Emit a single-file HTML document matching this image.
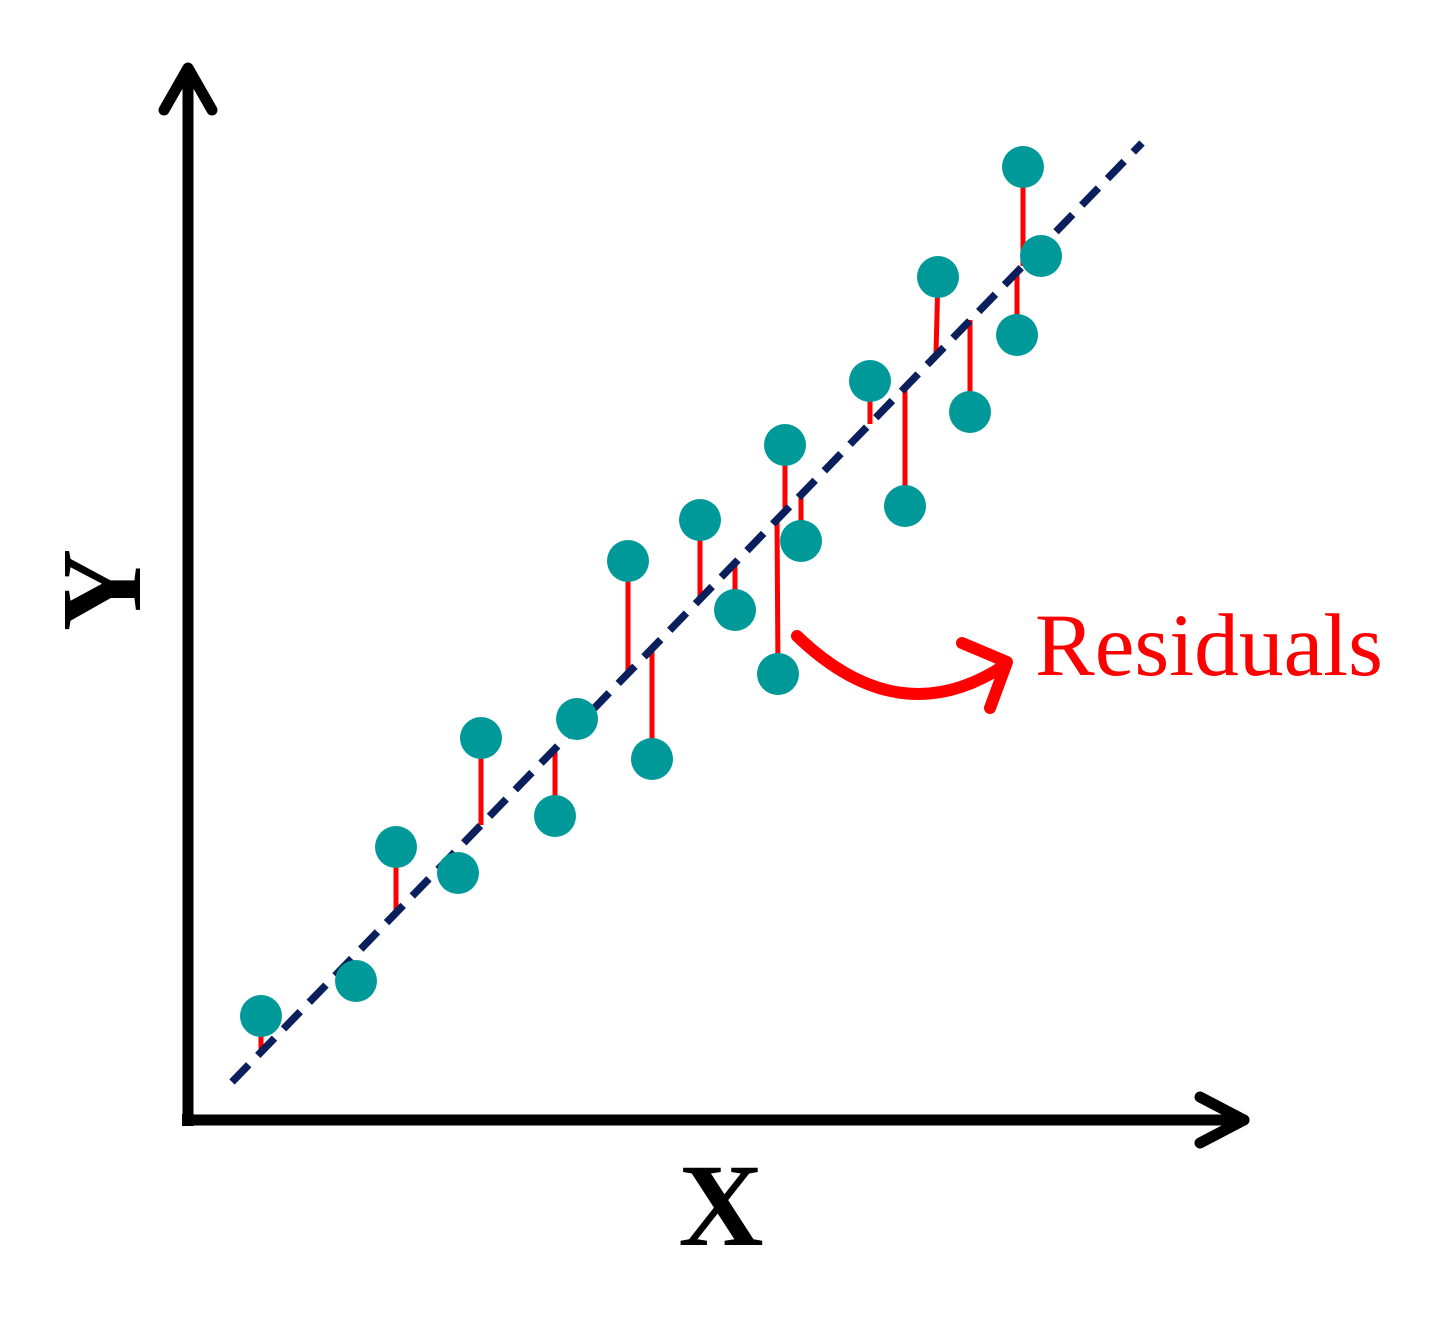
<!DOCTYPE html>
<html><head><meta charset="utf-8"><style>
html,body{margin:0;padding:0;background:#fff;}
svg{display:block;}
</style></head><body>
<svg width="1444" height="1339" viewBox="0 0 1444 1339" xmlns="http://www.w3.org/2000/svg">
<g stroke="#000" stroke-width="11" fill="none" stroke-linecap="round" stroke-linejoin="round">
<line x1="188" y1="72" x2="188" y2="1120"/>
<line x1="188" y1="1120" x2="1244" y2="1120"/>
<polyline points="164,110 188,68 212,110"/>
<polyline points="1200,1097 1244,1120 1200,1143"/>
</g>
<rect x="182" y="1114" width="12" height="12" fill="#000"/>
<g stroke="#ff0000" stroke-width="5">
<line x1="261" y1="1016" x2="261" y2="1052"/>
<line x1="396" y1="847" x2="396" y2="913"/>
<line x1="481" y1="738" x2="481" y2="825"/>
<line x1="555" y1="816" x2="555" y2="749"/>
<line x1="628" y1="561" x2="628" y2="673"/>
<line x1="652" y1="759" x2="652" y2="649"/>
<line x1="700" y1="520" x2="700" y2="599"/>
<line x1="735" y1="610" x2="735" y2="563"/>
<line x1="785" y1="445" x2="785" y2="511"/>
<line x1="801" y1="541" x2="801" y2="495"/>
<line x1="778" y1="674" x2="777" y2="518"/>
<line x1="870" y1="381" x2="870" y2="424"/>
<line x1="905" y1="506" x2="905" y2="387"/>
<line x1="938" y1="277" x2="936" y2="353"/>
<line x1="970" y1="412" x2="970" y2="320"/>
<line x1="1023" y1="167" x2="1023" y2="266"/>
<line x1="1017" y1="335" x2="1017" y2="272"/>
</g>
<line x1="232" y1="1082" x2="1142" y2="143" stroke="#0a1f5c" stroke-width="7.5" stroke-dasharray="24,13"/>
<g fill="#009999">
<circle cx="261" cy="1016" r="21"/><circle cx="356" cy="981" r="21"/>
<circle cx="396" cy="847" r="21"/><circle cx="458" cy="873" r="21"/>
<circle cx="481" cy="738" r="21"/><circle cx="555" cy="816" r="21"/>
<circle cx="577" cy="719" r="21"/><circle cx="628" cy="561" r="21"/>
<circle cx="652" cy="759" r="21"/><circle cx="700" cy="520" r="21"/>
<circle cx="735" cy="610" r="21"/><circle cx="785" cy="445" r="21"/>
<circle cx="801" cy="541" r="21"/><circle cx="778" cy="674" r="21"/>
<circle cx="870" cy="381" r="21"/><circle cx="905" cy="506" r="21"/>
<circle cx="938" cy="277" r="21"/><circle cx="970" cy="412" r="21"/>
<circle cx="1023" cy="167" r="21"/><circle cx="1041" cy="256" r="21"/>
<circle cx="1017" cy="335" r="21"/>
</g>
<g stroke="#ff0000" stroke-width="12" fill="none" stroke-linecap="round" stroke-linejoin="round">
<path d="M797,636 Q900,735 1005,665"/>
<polyline points="962,643 1007,662 990,708"/>
</g>
<text x="1035" y="675" font-family="Liberation Serif, serif" font-size="89" fill="#ff0000" textLength="348" lengthAdjust="spacingAndGlyphs">Residuals</text>
<text x="721" y="1245" text-anchor="middle" font-family="Liberation Serif, serif" font-weight="bold" font-size="118" fill="#000">X</text>
<text transform="translate(140,590) rotate(-90)" text-anchor="middle" font-family="Liberation Serif, serif" font-weight="bold" font-size="114" fill="#000">Y</text>
</svg>
</body></html>
